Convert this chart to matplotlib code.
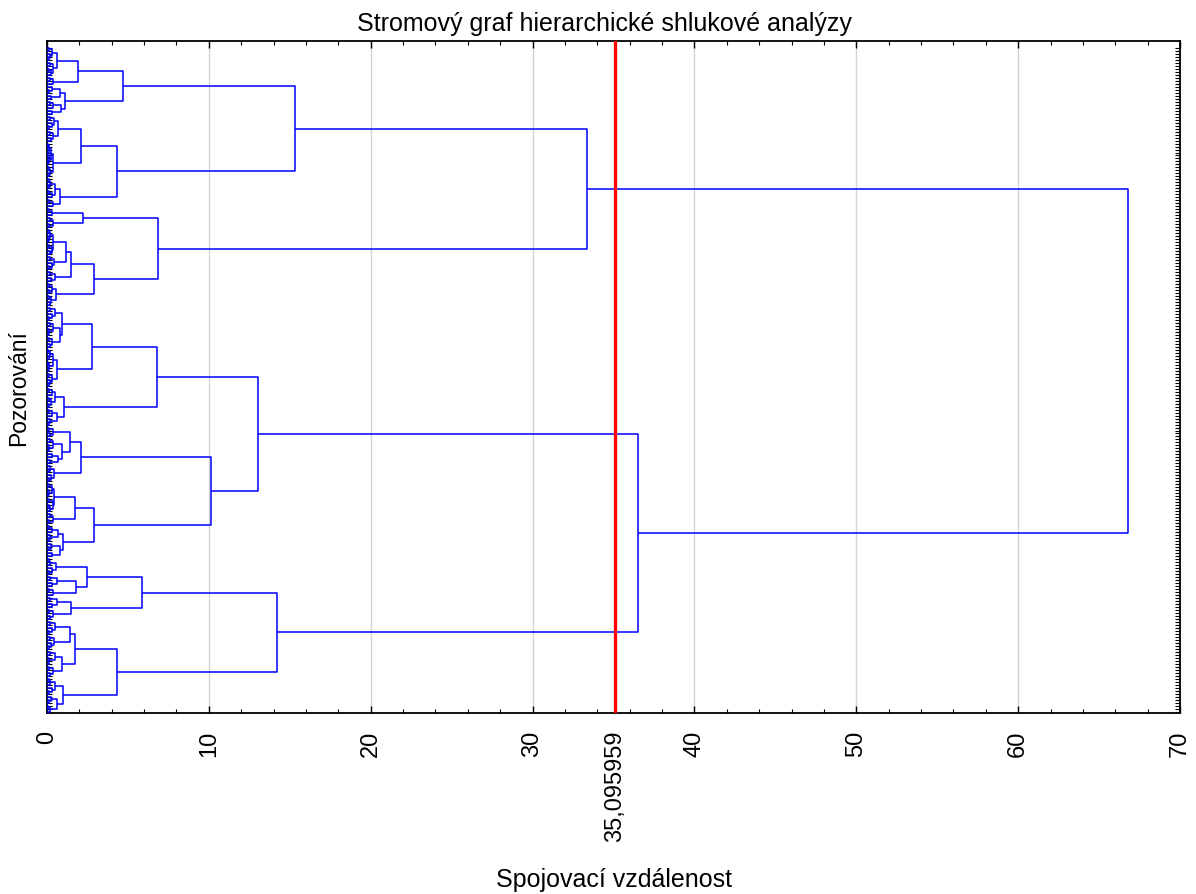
import re
import matplotlib
matplotlib.use("Agg")
import matplotlib.pyplot as plt
from matplotlib.collections import LineCollection
from matplotlib.ticker import FixedLocator, MultipleLocator

plt.rcParams['font.family'] = ['Liberation Sans', 'DejaVu Sans']

# ---------------- data ----------------
TITLE = "Stromový graf hierarchické shlukové analýzy"
XLABEL = "Spojovací vzdálenost"
YLABEL = "Pozorování"
CUT = 35.095959
CUT_LABEL = "35,095959"
X_TICKS = [0, 10, 20, 30, 40, 50, 60, 70]
X_TICK_LABELS = ["0", "10", "20", "30", "40", "50", "60", "70"]

# clusters written as "[height left right]", "." = one observation
A1a = ("[4.7 [1.9 [0.6 [0.3 [0.15 . .] [0.2 . [0.1 . .]]] [0.35 [0.2 . .] [0.25 [0.1 . .] .]]] "
       "[0.4 [0.2 . .] .]] [1.1 [0.8 [0.3 . [0.15 . .]] [0.25 . .]] [0.85 [0.4 [0.2 . .] .] [0.3 . .]]]]")
A1b = ("[4.3 [2.1 [0.7 [0.45 [0.2 . .] [0.3 . [0.15 . .]]] [0.35 [0.2 . .] [0.25 . .]]] "
       "[0.35 [0.25 [0.12 [0.08 . .] [0.1 . .]] [0.15 [0.1 . .] [0.06 . .]]] [0.2 [0.1 . .] [0.12 . .]]]] "
       "[0.8 [0.5 [0.2 [0.1 . .] [0.12 . .]] [0.3 [0.15 . .] .]] [0.35 [0.15 . .] .]]]")
A2 = ("[6.86 [2.2 [0.3 [0.15 . .] .] [0.35 [0.2 . .] [0.1 . .]]] "
      "[2.9 [1.5 [1.2 [0.4 [0.2 [0.1 . .] [0.15 . [0.08 . .]]] [0.3 [0.12 . .] [0.18 . .]]] "
      "[0.45 [0.2 . .] [0.3 . [0.1 . .]]]] [0.5 [0.2 . .] [0.25 . .]]] "
      "[0.55 [0.3 [0.1 . .] [0.15 . .]] [0.25 [0.12 . .] [0.2 . .]]]]]")
B1a = ("[6.8 [2.8 [0.95 [0.5 [0.2 . .] [0.3 . [0.1 . .]]] "
       "[0.8 [0.4 [0.2 . .] [0.15 . [0.1 . .]]] [0.3 [0.12 . .] [0.2 . .]]]] "
       "[0.6 [0.35 [0.2 [0.08 . .] [0.1 . .]] [0.15 [0.06 . .] [0.12 . .]]] [0.3 [0.15 . .] [0.2 . [0.1 . .]]]]] "
       "[1.07 [0.5 [0.3 [0.1 . .] .] [0.25 [0.15 . .] [0.1 . .]]] [0.6 [0.3 [0.1 . .] .] [0.2 . [0.15 . .]]]]]")
B1b = ("[10.13 [2.1 [1.4 [0.4 [0.15 . .] [0.2 . .]] "
       "[0.9 [0.4 [0.2 . .] [0.15 . [0.1 . .]]] [0.65 [0.3 . .] [0.2 . .]]]] "
       "[0.45 [0.2 . [0.1 . .]] [0.25 . [0.15 . .]]]] "
       "[2.9 [1.73 [0.45 [0.3 [0.1 . .] [0.12 . [0.06 . .]]] [0.35 [0.15 . .] [0.2 [0.1 . .] .]]] "
       "[0.4 [0.2 . .] [0.15 . .]]] "
       "[1.0 [0.65 [0.3 [0.1 . .] .] [0.2 . [0.15 . .]]] [0.8 [0.25 . [0.1 . .]] [0.3 . .]]]]]")
B2a = ("[5.87 [2.5 [0.55 [0.2 [0.1 . .] .] [0.3 . [0.15 . .]]] "
       "[1.77 [0.6 [0.2 . .] [0.3 . .]] [0.4 [0.15 . .] .]]] "
       "[1.5 [0.6 [0.2 . .] [0.3 . .]] [0.35 [0.1 . .] [0.2 . .]]]]")
B2b = ("[4.32 [1.73 [1.4 [0.5 [0.2 . .] [0.3 . [0.1 . .]]] [0.45 [0.2 . .] [0.25 . [0.1 . .]]]] "
       "[0.9 [0.5 [0.2 . .] [0.15 . [0.1 . .]]] [0.35 [0.15 . .] [0.2 . .]]]] "
       "[0.97 [0.5 [0.2 [0.1 . .] .] [0.3 . [0.15 . .]]] [0.6 [0.25 . [0.1 . .]] [0.2 [0.08 . .] .]]]]")

TREE = (f"[66.79 [33.36 [15.32 {A1a} {A1b}] {A2}] "
        f"[36.51 [13.04 {B1a} {B1b}] [14.21 {B2a} {B2b}]]]")


# ---------------- build ----------------
def parse(s):
    toks = re.findall(r'\[|\]|\d+(?:\.\d+)?|\.', s)
    pos = 0

    def node():
        nonlocal pos
        t = toks[pos]
        pos += 1
        if t == '.':
            return None
        h = float(toks[pos])
        pos += 1
        a = node()
        b = node()
        pos += 1  # ']'
        return (h, a, b)

    return node()


tree = parse(TREE)
paths = []
counter = [0]


def layout(n):
    if n is None:
        y = counter[0]
        counter[0] += 1
        return y, 0.0
    h, a, b = n
    y1, h1 = layout(a)
    y2, h2 = layout(b)
    paths.append([(h1, y1), (h, y1), (h, y2), (h2, y2)])
    return (y1 + y2) / 2.0, h


layout(tree)
N = counter[0]

# ---------------- draw ----------------
fig = plt.figure(figsize=(11.96, 8.95), dpi=100)
L, R, T, B = 47, 1180, 42, 714
W, H = 1196, 895
ax = fig.add_axes([L / W, 1 - B / H, (R - L) / W, (B - T) / H])

ax.set_xlim(0, 70)
ax.set_ylim(N - 0.5, -2.3)

for x in X_TICKS[1:-1]:
    ax.axvline(x, color='#d4d4d4', lw=1.0, zorder=1)

lc = LineCollection(paths, colors='#0000ff', linewidths=1.1, zorder=3)
ax.add_collection(lc)

ax.axvline(CUT, color='#ff0000', lw=2.4, zorder=4)

ax.xaxis.set_major_locator(FixedLocator(X_TICKS + [CUT]))
ax.set_xticklabels(X_TICK_LABELS + [CUT_LABEL], rotation=90, fontsize=17)
ax.xaxis.set_minor_locator(MultipleLocator(2))
ax.tick_params(axis='x', which='major', direction='in', top=True, length=5, width=1.0, pad=12)
ax.tick_params(axis='x', which='minor', direction='in', top=True, length=3, width=0.8)

ax.set_yticks(range(N))
ax.tick_params(axis='y', which='major', direction='in', left=True, right=True,
               labelleft=False, length=3.5, width=0.8)

for sp in ax.spines.values():
    sp.set_linewidth(1.3)
    sp.set_color('black')

fig.text(604 / W, 1 - 24 / H, TITLE, ha='center', va='center', fontsize=18)
fig.text(614 / W, 1 - 880 / H, XLABEL, ha='center', va='center', fontsize=18)
fig.text(19 / W, 1 - 388 / H, YLABEL, ha='center', va='center', rotation=90, fontsize=16.5)

fig.savefig("out.png", dpi=100)
